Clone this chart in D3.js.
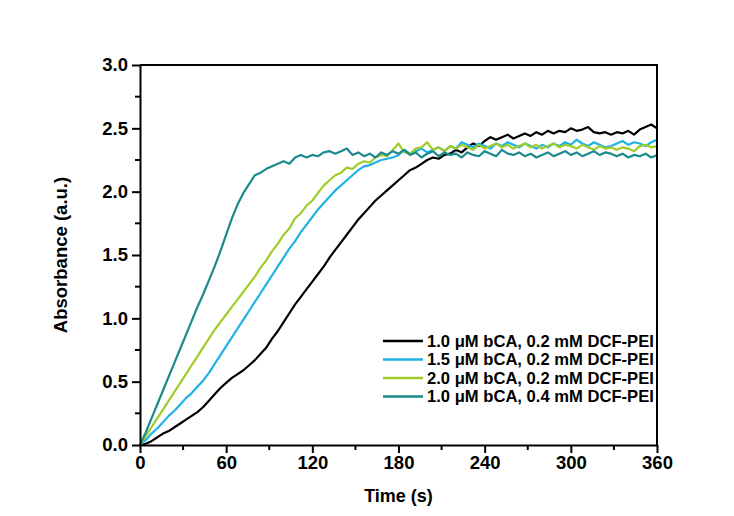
<!DOCTYPE html>
<html>
<head>
<meta charset="utf-8">
<script src="https://cdn.jsdelivr.net/npm/d3@7"></script>
<style>
body { margin: 0; background: #fff; }
text { font-family: "Liberation Sans", Arial, sans-serif; font-weight: bold; fill: #000; }
</style>
</head>
<body>
<script>
var width = 734,
    height = 516;

var margin = {top: 65, right: 77, bottom: 71, left: 140};

// sampling grid (s)
var time = d3.range(0, 361, 4);

var black = [0, 0.01, 0.03, 0.06, 0.09, 0.11, 0.14, 0.17, 0.20, 0.23, 0.26, 0.30, 0.35, 0.40, 0.45, 0.49,
    0.53, 0.56, 0.59, 0.63, 0.67, 0.72, 0.77, 0.84, 0.90, 0.97, 1.04, 1.11, 1.17, 1.23, 1.29,
    1.35, 1.41, 1.48, 1.54, 1.60, 1.66, 1.72, 1.78, 1.83, 1.88, 1.93, 1.97, 2.01, 2.05, 2.09,
    2.13, 2.17, 2.19, 2.22, 2.25, 2.27, 2.26, 2.29, 2.30, 2.33, 2.31, 2.35, 2.38, 2.36, 2.40,
    2.43, 2.41, 2.43, 2.45, 2.42, 2.44, 2.46, 2.44, 2.47, 2.45, 2.48, 2.46, 2.48, 2.47, 2.50,
    2.48, 2.49, 2.51, 2.47, 2.46, 2.47, 2.45, 2.47, 2.46, 2.48, 2.45, 2.49, 2.51, 2.53, 2.50];

var blue = [0, 0.04, 0.09, 0.13, 0.18, 0.23, 0.27, 0.32, 0.37, 0.41, 0.46, 0.51, 0.57, 0.64, 0.71, 0.78,
    0.85, 0.92, 0.99, 1.06, 1.13, 1.20, 1.27, 1.34, 1.41, 1.48, 1.55, 1.61, 1.68, 1.74, 1.80,
    1.86, 1.91, 1.96, 2.01, 2.05, 2.09, 2.13, 2.17, 2.20, 2.21, 2.23, 2.25, 2.26, 2.27, 2.29,
    2.33, 2.30, 2.32, 2.34, 2.31, 2.33, 2.35, 2.32, 2.36, 2.34, 2.39, 2.37, 2.35, 2.38, 2.36,
    2.34, 2.38, 2.36, 2.39, 2.37, 2.35, 2.38, 2.36, 2.34, 2.37, 2.35, 2.38, 2.36, 2.39, 2.37,
    2.41, 2.38, 2.36, 2.39, 2.37, 2.35, 2.36, 2.38, 2.40, 2.37, 2.39, 2.38, 2.36, 2.39, 2.41];

var green = [0, 0.07, 0.14, 0.21, 0.28, 0.35, 0.42, 0.49, 0.56, 0.63, 0.70, 0.77, 0.84, 0.91, 0.97, 1.03,
    1.09, 1.15, 1.21, 1.27, 1.33, 1.40, 1.46, 1.53, 1.59, 1.66, 1.71, 1.79, 1.83, 1.89, 1.93,
    1.99, 2.05, 2.09, 2.13, 2.15, 2.19, 2.18, 2.22, 2.24, 2.23, 2.27, 2.29, 2.28, 2.33, 2.38,
    2.31, 2.30, 2.34, 2.35, 2.39, 2.33, 2.35, 2.32, 2.36, 2.34, 2.37, 2.35, 2.33, 2.37, 2.34,
    2.36, 2.38, 2.35, 2.37, 2.34, 2.36, 2.38, 2.35, 2.37, 2.34, 2.36, 2.38, 2.35, 2.37, 2.36,
    2.34, 2.37, 2.35, 2.33, 2.36, 2.34, 2.35, 2.33, 2.35, 2.34, 2.32, 2.36, 2.37, 2.35, 2.36];

var teal = [0, 0.10, 0.21, 0.32, 0.43, 0.54, 0.65, 0.76, 0.87, 0.98, 1.09, 1.19, 1.30, 1.41, 1.53, 1.66,
    1.79, 1.90, 1.99, 2.06, 2.13, 2.15, 2.18, 2.20, 2.22, 2.24, 2.22, 2.27, 2.29, 2.27, 2.29,
    2.28, 2.31, 2.32, 2.30, 2.32, 2.34, 2.29, 2.31, 2.28, 2.30, 2.27, 2.31, 2.29, 2.32, 2.30,
    2.33, 2.29, 2.31, 2.27, 2.30, 2.32, 2.28, 2.31, 2.29, 2.30, 2.27, 2.31, 2.29, 2.28, 2.32,
    2.30, 2.28, 2.33, 2.30, 2.29, 2.31, 2.28, 2.30, 2.27, 2.29, 2.31, 2.28, 2.30, 2.32, 2.29,
    2.31, 2.28, 2.30, 2.32, 2.29, 2.31, 2.30, 2.28, 2.30, 2.27, 2.29, 2.28, 2.30, 2.27, 2.29];

var labels = ["1.0 \u03bcM bCA, 0.2 mM DCF-PEI", "1.5 \u03bcM bCA, 0.2 mM DCF-PEI",
    "2.0 \u03bcM bCA, 0.2 mM DCF-PEI", "1.0 \u03bcM bCA, 0.4 mM DCF-PEI"];
var colors = ["#000000", "#1fb1e7", "#a0cc2a", "#1a8a8c"];

var xTicks = [0, 60, 120, 180, 240, 300, 360];
var yTicks = [0, 0.5, 1.0, 1.5, 2.0, 2.5, 3.0];

var series = [black, blue, green, teal];

var svg = d3.select("body").append("svg")
    .attr("width", width)
    .attr("height", height);

var x = d3.scaleLinear().domain([0, 360]).range([margin.left, width - margin.right]);
var y = d3.scaleLinear().domain([0, 3]).range([height - margin.bottom, margin.top]);

var line = d3.line()
    .x(function(d) { return x(d[0]); })
    .y(function(d) { return y(d[1]); });

var gLines = svg.append("g");
series.forEach(function(s, i) {
    gLines.append("path")
        .datum(time.map(function(t, j) { return [t, s[j]]; }))
        .attr("fill", "none")
        .attr("stroke", colors[i])
        .attr("stroke-width", 2.2)
        .attr("stroke-linejoin", "round")
        .attr("d", line);
});

// minor ticks
var gMinor = svg.append("g");
gMinor.selectAll(".mx")
    .data(d3.range(30, 360, 60))
    .enter().append("line")
    .attr("x1", function(d) { return x(d); })
    .attr("x2", function(d) { return x(d); })
    .attr("y1", y(0))
    .attr("y2", y(0) + 5)
    .attr("stroke", "#000")
    .attr("stroke-width", 2);
gMinor.selectAll(".my")
    .data(d3.range(0.25, 3, 0.5))
    .enter().append("line")
    .attr("x1", x(0) - 5)
    .attr("x2", x(0))
    .attr("y1", function(d) { return y(d); })
    .attr("y2", function(d) { return y(d); })
    .attr("stroke", "#000")
    .attr("stroke-width", 2);

var xAxis = svg.append("g")
    .attr("transform", "translate(0," + y(0) + ")")
    .call(d3.axisBottom(x).tickValues(xTicks).tickSize(8).tickPadding(3).tickSizeOuter(0));
var yAxis = svg.append("g")
    .attr("transform", "translate(" + x(0) + ",0)")
    .call(d3.axisLeft(y).tickValues(yTicks).tickFormat(d3.format(".1f")).tickSize(8).tickPadding(4).tickSizeOuter(0));

[xAxis, yAxis].forEach(function(a) {
    a.selectAll("path, line").attr("stroke", "#000").attr("stroke-width", 2);
    a.selectAll("text").style("font-size", "18.5px").attr("fill", "#000");
});

// frame top and right
svg.append("path")
    .attr("d", "M" + x(0) + "," + y(3) + "H" + x(360) + "V" + y(0))
    .attr("fill", "none")
    .attr("stroke", "#000")
    .attr("stroke-width", 2);

svg.append("text")
    .attr("x", (x(0) + x(360)) / 2)
    .attr("y", 502)
    .attr("text-anchor", "middle")
    .style("font-size", "18px")
    .text("Time (s)");

svg.append("text")
    .attr("transform", "translate(67," + (y(1.5)) + ") rotate(-90)")
    .attr("text-anchor", "middle")
    .style("font-size", "18.5px")
    .text("Absorbance (a.u.)");

var legend = svg.append("g")
    .attr("transform", "translate(383,341)");
labels.forEach(function(l, i) {
    var row = legend.append("g").attr("transform", "translate(0," + i * 18.5 + ")");
    row.append("line")
        .attr("x1", 0).attr("x2", 40)
        .attr("stroke", colors[i])
        .attr("stroke-width", 2.5);
    row.append("text")
        .attr("x", 44)
        .attr("dy", "0.35em")
        .style("font-size", "16.6px")
        .text(l);
});
</script>
</body>
</html>
